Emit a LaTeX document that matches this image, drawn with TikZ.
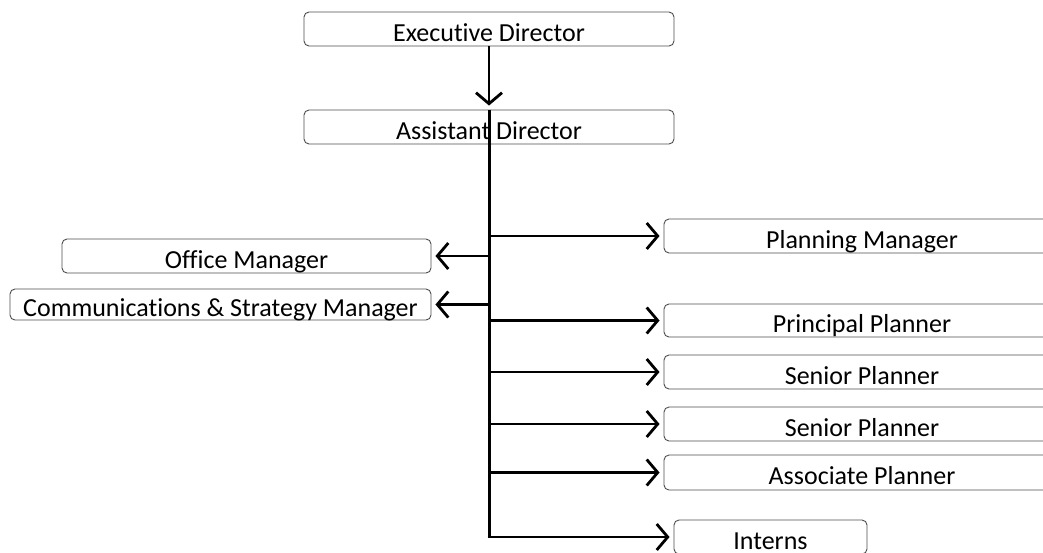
\documentclass[tikz,border=0pt]{standalone}
\usepackage{fontspec}
\setmainfont{Carlito}[Ligatures={NoCommon}]
\usetikzlibrary{ arrows.meta, % For the open arrow heads
                 positioning,
               }
\tikzstyle{role} = [rectangle, rounded corners=5pt, draw=black!70, line width=0.9pt, inner sep=0pt, text centered, text height=25pt, text depth=1pt, font=\fontsize{26}{28}\selectfont]
\tikzstyle{report} = [-{Straight Barb[length=11pt,width=26pt]}, line width=2.8pt, shorten >=4pt]
\tikzstyle{trunk} = [line width=3pt]

\begin{document}
\begin{tikzpicture}[x=1pt, y=-1pt]
  \useasboundingbox (0,0) rectangle (1043,552);
  \clip (0,0) rectangle (1043,552);

  \node (exec) [role, minimum width=370pt, minimum height=34pt] at (489, 29) {Executive Director};
  \node (asst) [role, minimum width=370pt, minimum height=34pt] at (489, 127) {Assistant Director};

  % left side
  \node (office) [role, minimum width=369pt, minimum height=34pt] at (246.5, 256) {Office Manager};
  \node (comms) [role, minimum width=421pt, minimum height=31pt] at (220.5, 304.5) {Communications \& Strategy Manager};

  % right side, boxes run off the page
  \node (pm) [role, minimum width=396pt, minimum height=34pt] at (862, 236) {Planning Manager};
  \node (pp) [role, minimum width=396pt, minimum height=33pt] at (862, 320.5) {Principal Planner};
  \node (sp1) [role, minimum width=396pt, minimum height=34pt] at (862, 372) {Senior Planner};
  \node (sp2) [role, minimum width=396pt, minimum height=34pt] at (862, 424) {Senior Planner};
  \node (ap) [role, minimum width=396pt, minimum height=35pt] at (862, 472.5) {Associate Planner};
  \node (interns) [role, minimum width=193pt, minimum height=34pt] at (770.5, 537) {Interns};

  \coordinate (bottom) at (asst |- interns.west);

  \draw[report] (exec) -- (asst.north);
  \draw[trunk] (asst.north) -- (bottom);

  \draw[report] (asst |- office.east) -- (office.east);
  \draw[report] (asst |- comms.east) -- (comms.east);
  \draw[report] (asst |- pm.west) -- (pm.west);
  \draw[report] (asst |- pp.west) -- (pp.west);
  \draw[report] (asst |- sp1.west) -- (sp1.west);
  \draw[report] (asst |- sp2.west) -- (sp2.west);
  \draw[report] (asst |- ap.west) -- (ap.west);
  \draw[report, shorten <=-1.5pt] (bottom) -- (interns.west);

\end{tikzpicture}
\end{document}
